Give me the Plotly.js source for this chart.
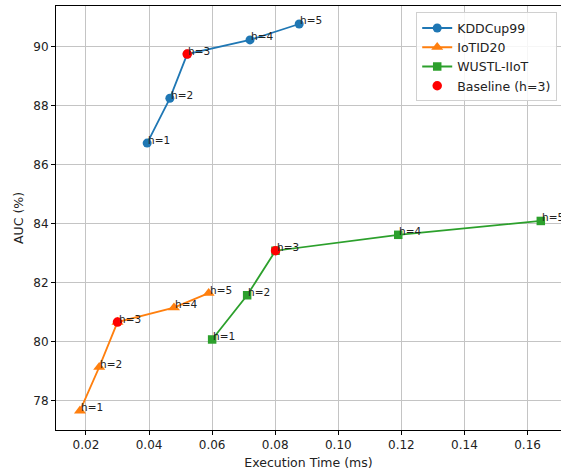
<!DOCTYPE html>
<html>
<head>
<meta charset="utf-8">
<script src="https://cdn.plot.ly/plotly-3.0.1.min.js"></script>
<style>html,body{margin:0;padding:0;background:#fff;}#chart{width:561px;height:475px;}</style>
</head>
<body>
<div id="chart"></div>
<script>
const hLabels = ['h=1', 'h=2', 'h=3', 'h=4', 'h=5'];

const kddTime = [0.0394, 0.0466, 0.0521, 0.0720, 0.0876];
const kddAUC  = [86.73, 88.25, 89.75, 90.23, 90.77];

const iotTime = [0.0181, 0.0242, 0.0300, 0.0479, 0.0589];
const iotAUC  = [77.65, 79.13, 80.66, 81.15, 81.64];

const wusTime = [0.0600, 0.0711, 0.0801, 0.1190, 0.1642];
const wusAUC  = [80.07, 81.57, 83.08, 83.62, 84.09];

const baselineIndex = 2; // h=3

const seriesNames = ['KDDCup99', 'IoTID20', 'WUSTL-IIoT'];
const colors = ['#1f77b4', '#ff7f0e', '#2ca02c'];
const symbols = ['circle', 'triangle-up', 'square'];
const sizes = [9, 10.5, 8.5];
const seriesX = [kddTime, iotTime, wusTime];
const seriesY = [kddAUC, iotAUC, wusAUC];

const traces = seriesNames.map((n, i) => ({
  type: 'scatter', mode: 'lines+markers', name: n,
  x: seriesX[i], y: seriesY[i],
  line: {color: colors[i], width: 1.8},
  marker: {color: colors[i], symbol: symbols[i], size: sizes[i]}
}));

traces.push({
  type: 'scatter', mode: 'markers', name: 'Baseline (h=3)',
  x: seriesX.map(a => a[baselineIndex]),
  y: seriesY.map(a => a[baselineIndex]),
  marker: {color: 'red', symbol: 'circle', size: 9.5}
});

const annotations = [];
seriesX.forEach((xs, i) => {
  xs.forEach((x, j) => {
    annotations.push({
      x: x, y: seriesY[i][j], xref: 'x', yref: 'y',
      text: hLabels[j], showarrow: false,
      xanchor: 'left', yanchor: 'bottom', yshift: -4.5, xshift: -1,
      font: {family: 'DejaVu Sans', size: 10.5, color: '#222'}
    });
  });
});

const layout = {
  width: 561, height: 475,
  margin: {l: 56, r: 0, t: 6, b: 45, pad: 0},
  paper_bgcolor: '#fff', plot_bgcolor: '#fff',
  font: {family: 'DejaVu Sans', size: 12, color: '#222'},
  showlegend: true,
  legend: {
    x: 0.9925, xanchor: 'right', y: 0.985, yanchor: 'top',
    bgcolor: 'rgba(255,255,255,0.85)', bordercolor: '#d0d0d0', borderwidth: 1,
    font: {family: 'DejaVu Sans', size: 12.5, color: '#222'},
    tracegroupgap: 0, itemwidth: 30
  },
  xaxis: {
    range: [0.0105, 0.1706],
    tickvals: [0.02, 0.04, 0.06, 0.08, 0.10, 0.12, 0.14, 0.16],
    tickformat: '.2f',
    tickfont: {size: 12},
    showgrid: true, gridcolor: '#c4c4c4', gridwidth: 1,
    zeroline: false,
    showline: true, linecolor: '#000', linewidth: 1, mirror: true,
    ticks: 'outside', ticklen: 4, tickcolor: '#000',
    title: {text: 'Execution Time (ms)', font: {size: 12.5}, standoff: 6},
    automargin: false
  },
  yaxis: {
    range: [77.0, 91.38],
    tickvals: [78, 80, 82, 84, 86, 88, 90],
    tickfont: {size: 12},
    showgrid: true, gridcolor: '#c4c4c4', gridwidth: 1,
    zeroline: false,
    showline: true, linecolor: '#000', linewidth: 1, mirror: false,
    ticks: 'outside', ticklen: 4, tickcolor: '#000',
    title: {text: 'AUC (%)', font: {size: 12.5}, standoff: 6},
    automargin: false
  },
  annotations: annotations
};

Plotly.newPlot('chart', traces, layout, {displayModeBar: false, staticPlot: true});
</script>
</body>
</html>
